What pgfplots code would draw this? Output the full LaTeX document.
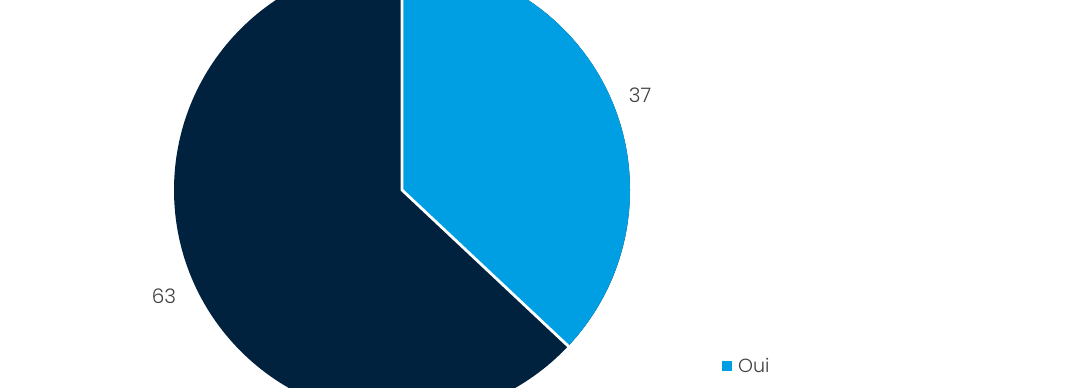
\documentclass[border=0pt]{standalone}
\usepackage{fontspec}
\setmainfont{Poppins Light}
\usepackage{pgfplots}
\pgfplotsset{compat=1.18}
\definecolor{cOui}{HTML}{009FE3}
\definecolor{cNon}{HTML}{00223F}
\definecolor{txt}{HTML}{404040}
\def\vOui{37}
\def\vNon{63}
\begin{document}
\begin{tikzpicture}
\pgfmathsetmacro{\aEnd}{90-360*\vOui/(\vOui+\vNon)}
\begin{axis}[
  scale only axis, width=1080pt, height=388pt,
  xmin=0, xmax=1080, ymin=0, ymax=388,
  hide axis, clip=true,
  legend style={at={(axis cs:722,22)}, anchor=west, draw=none, fill=none,
    font=\fontsize{19}{22}\selectfont\color{txt}, inner sep=0pt,
    nodes={inner sep=0pt},
    legend cell align=left},
  legend image code/.code={\fill[#1] (0pt,-5pt) rectangle (10pt,5pt); \path (16pt,0pt);},
]
\addlegendimage{fill=cOui, draw=none}
\addlegendentry{Oui}
\fill[cNon] (axis cs:402,198) -- (axis cs:402,426) arc[start angle=90, end angle={\aEnd-360}, radius=228pt] -- cycle;
\fill[cOui] (axis cs:402,198) -- (axis cs:402,426) arc[start angle=90, end angle=\aEnd, radius=228pt] -- cycle;
\draw[white, line width=2.8pt] (axis cs:402,430) -- (axis cs:402,198) -- ++(\aEnd:240pt);
\node[txt, font=\fontsize{20}{22}\selectfont] at (axis cs:640,293) {\vOui};
\node[txt, font=\fontsize{20}{22}\selectfont] at (axis cs:164,92) {\vNon};
\end{axis}
\pgfresetboundingbox
\useasboundingbox (current axis.south west) rectangle (current axis.north east);
\end{tikzpicture}
\end{document}
